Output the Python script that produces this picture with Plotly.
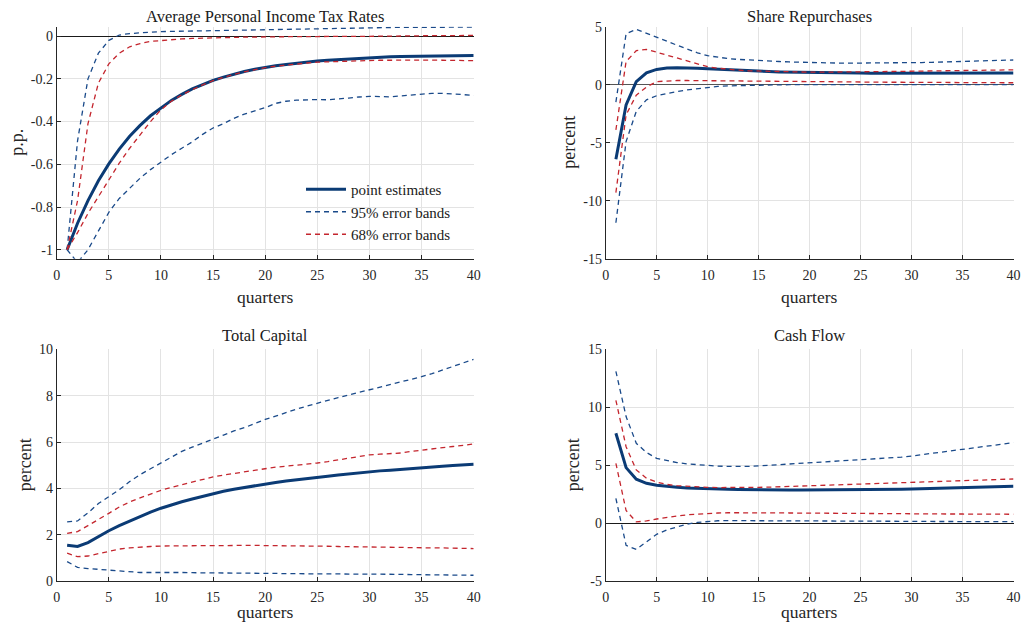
import plotly.graph_objects as go

quarters = list(range(1, 41))

# ---- Average Personal Income Tax Rates ----
tax_pe = [-1.00, -0.876, -0.770, -0.677, -0.598, -0.529, -0.469, -0.418, -0.373, -0.335,
          -0.301, -0.273, -0.247, -0.227, -0.207, -0.192, -0.178, -0.166, -0.155, -0.146,
          -0.139, -0.133, -0.127, -0.122, -0.117, -0.113, -0.110, -0.107, -0.104, -0.101,
          -0.099, -0.097, -0.096, -0.095, -0.094, -0.093, -0.092, -0.092, -0.091, -0.091]
tax_up95 = [-1.00, -0.49, -0.20, -0.08, -0.02, 0.005, 0.012, 0.016, 0.019, 0.021,
            0.022, 0.023, 0.024, 0.025, 0.026, 0.027, 0.028, 0.029, 0.030, 0.031,
            0.032, 0.033, 0.034, 0.035, 0.036, 0.037, 0.038, 0.039, 0.040, 0.040,
            0.041, 0.041, 0.041, 0.041, 0.041, 0.041, 0.042, 0.042, 0.042, 0.042]
tax_lo95 = [-1.00, -1.06, -1.00, -0.91, -0.825, -0.76, -0.71, -0.665, -0.625, -0.59,
            -0.555, -0.525, -0.495, -0.46, -0.43, -0.41, -0.385, -0.365, -0.35, -0.335,
            -0.315, -0.305, -0.300, -0.298, -0.297, -0.298, -0.295, -0.29, -0.285, -0.282,
            -0.283, -0.285, -0.28, -0.275, -0.27, -0.268, -0.268, -0.27, -0.274, -0.278]
tax_up68 = [-1.00, -0.77, -0.41, -0.22, -0.13, -0.08, -0.05, -0.035, -0.025, -0.02,
            -0.016, -0.013, -0.011, -0.009, -0.008, -0.007, -0.006, -0.005, -0.004, -0.004,
            -0.003, -0.003, -0.002, -0.002, -0.002, -0.001, -0.001, -0.001, -0.001, -0.001,
            0.0, 0.0, 0.001, 0.001, 0.001, 0.002, 0.002, 0.002, 0.003, 0.003]
tax_lo68 = [-1.00, -0.92, -0.83, -0.75, -0.672, -0.595, -0.525, -0.46, -0.40, -0.345,
            -0.305, -0.275, -0.25, -0.228, -0.208, -0.193, -0.179, -0.167, -0.157, -0.148,
            -0.141, -0.135, -0.130, -0.126, -0.122, -0.120, -0.118, -0.116, -0.115, -0.114,
            -0.113, -0.113, -0.112, -0.112, -0.112, -0.112, -0.113, -0.113, -0.114, -0.115]

# ---- Share Repurchases ----
rep_pe = [-6.43, -1.75, 0.26, 1.03, 1.32, 1.43, 1.46, 1.46, 1.42, 1.37,
          1.32, 1.28, 1.24, 1.20, 1.16, 1.13, 1.10, 1.08, 1.06, 1.04,
          1.03, 1.02, 1.01, 1.00, 1.00, 0.99, 0.99, 0.99, 0.99, 0.99,
          0.99, 0.99, 0.99, 0.99, 0.99, 0.99, 1.00, 1.00, 1.00, 1.00]
rep_up95 = [-1.5, 4.4, 4.77, 4.45, 4.1, 3.75, 3.4, 3.05, 2.75, 2.5,
            2.35, 2.25, 2.18, 2.12, 2.08, 2.04, 2.0, 1.96, 1.93, 1.9,
            1.88, 1.87, 1.86, 1.86, 1.86, 1.86, 1.87, 1.88, 1.89, 1.9,
            1.91, 1.93, 1.95, 1.97, 1.99, 2.01, 2.04, 2.07, 2.1, 2.13]
rep_lo95 = [-11.9, -4.9, -2.3, -1.3, -0.95, -0.75, -0.6, -0.45, -0.33, -0.22,
            -0.15, -0.1, -0.07, -0.05, -0.03, -0.02, -0.01, 0.0, 0.0, 0.0,
            0.0, 0.0, 0.0, 0.0, 0.0, 0.0, 0.0, 0.0, 0.0, 0.0,
            0.0, 0.0, 0.0, 0.0, 0.0, 0.0, 0.0, 0.0, 0.0, 0.0]
rep_up68 = [-3.9, 2.0, 2.93, 3.05, 2.8, 2.55, 2.3, 2.05, 1.8, 1.55,
            1.42, 1.32, 1.25, 1.2, 1.17, 1.14, 1.12, 1.1, 1.09, 1.08,
            1.08, 1.08, 1.09, 1.1, 1.11, 1.12, 1.13, 1.14, 1.15, 1.16,
            1.17, 1.18, 1.19, 1.2, 1.21, 1.22, 1.24, 1.25, 1.27, 1.28]
rep_lo68 = [-9.3, -2.6, -0.9, -0.2, 0.27, 0.34, 0.36, 0.36, 0.35, 0.34,
            0.33, 0.32, 0.31, 0.3, 0.29, 0.28, 0.27, 0.26, 0.25, 0.25,
            0.24, 0.24, 0.23, 0.23, 0.22, 0.22, 0.21, 0.21, 0.21, 0.2,
            0.2, 0.2, 0.19, 0.19, 0.19, 0.18, 0.18, 0.18, 0.17, 0.17]

# ---- Total Capital ----
cap_pe = [1.55, 1.50, 1.67, 1.93, 2.18, 2.40, 2.60, 2.80, 2.98, 3.15,
          3.30, 3.43, 3.55, 3.67, 3.78, 3.88, 3.97, 4.05, 4.13, 4.20,
          4.26, 4.32, 4.38, 4.43, 4.48, 4.53, 4.58, 4.63, 4.68, 4.72,
          4.76, 4.79, 4.83, 4.86, 4.89, 4.93, 4.96, 4.99, 5.02, 5.05]
cap_up95 = [2.56, 2.6, 2.95, 3.35, 3.65, 3.95, 4.3, 4.6, 4.85, 5.1,
            5.35, 5.6, 5.78, 5.95, 6.1, 6.3, 6.48, 6.62, 6.8, 6.98,
            7.12, 7.28, 7.42, 7.55, 7.68, 7.8, 7.92, 8.03, 8.14, 8.25,
            8.36, 8.47, 8.58, 8.7, 8.82, 8.95, 9.1, 9.25, 9.4, 9.57]
cap_lo95 = [0.85, 0.6, 0.55, 0.52, 0.47, 0.43, 0.4, 0.38, 0.38, 0.39,
            0.39, 0.38, 0.37, 0.37, 0.36, 0.36, 0.35, 0.35, 0.34, 0.34,
            0.34, 0.33, 0.33, 0.33, 0.32, 0.32, 0.32, 0.31, 0.31, 0.31,
            0.3, 0.3, 0.3, 0.29, 0.29, 0.29, 0.28, 0.28, 0.27, 0.26]
cap_up68 = [2.07, 2.14, 2.4, 2.68, 2.93, 3.2, 3.42, 3.6, 3.77, 3.92,
            4.05, 4.17, 4.28, 4.4, 4.5, 4.58, 4.65, 4.73, 4.8, 4.87,
            4.92, 4.96, 5.0, 5.05, 5.1, 5.16, 5.23, 5.3, 5.38, 5.45,
            5.48, 5.5, 5.53, 5.6, 5.66, 5.71, 5.76, 5.81, 5.86, 5.92]
cap_lo68 = [1.21, 1.06, 1.09, 1.2, 1.31, 1.39, 1.44, 1.48, 1.5, 1.52,
            1.53, 1.53, 1.54, 1.54, 1.54, 1.54, 1.55, 1.55, 1.55, 1.54,
            1.54, 1.53, 1.53, 1.52, 1.51, 1.51, 1.5, 1.49, 1.48, 1.48,
            1.47, 1.47, 1.46, 1.46, 1.45, 1.44, 1.44, 1.43, 1.42, 1.41]

# ---- Cash Flow ----
cf_pe = [7.76, 4.8, 3.8, 3.45, 3.28, 3.17, 3.1, 3.05, 3.01, 2.98,
         2.96, 2.94, 2.92, 2.9, 2.89, 2.88, 2.87, 2.87, 2.87, 2.87,
         2.87, 2.87, 2.87, 2.87, 2.88, 2.89, 2.9, 2.91, 2.93, 2.95,
         2.97, 2.99, 3.01, 3.03, 3.05, 3.07, 3.1, 3.13, 3.16, 3.19]
cf_up95 = [13.1, 9.2, 6.9, 6.1, 5.6, 5.4, 5.23, 5.12, 5.04, 4.97,
           4.93, 4.9, 4.89, 4.9, 4.95, 5.0, 5.05, 5.1, 5.16, 5.22,
           5.27, 5.32, 5.37, 5.42, 5.46, 5.52, 5.58, 5.64, 5.7, 5.8,
           5.92, 6.04, 6.16, 6.28, 6.4, 6.52, 6.62, 6.72, 6.83, 6.95]
cf_lo95 = [2.15, -1.9, -2.25, -1.6, -0.95, -0.57, -0.29, -0.07, 0.08, 0.18,
           0.22, 0.23, 0.23, 0.23, 0.23, 0.22, 0.22, 0.21, 0.21, 0.2,
           0.2, 0.19, 0.19, 0.18, 0.18, 0.18, 0.17, 0.17, 0.17, 0.17,
           0.16, 0.16, 0.16, 0.15, 0.15, 0.15, 0.14, 0.14, 0.14, 0.14]
cf_up68 = [10.6, 6.6, 4.6, 3.88, 3.55, 3.35, 3.25, 3.18, 3.13, 3.1,
           3.08, 3.07, 3.07, 3.08, 3.1, 3.12, 3.15, 3.17, 3.2, 3.22,
           3.25, 3.27, 3.3, 3.33, 3.36, 3.39, 3.42, 3.45, 3.48, 3.5,
           3.53, 3.56, 3.59, 3.62, 3.65, 3.68, 3.71, 3.75, 3.78, 3.82]
cf_lo68 = [5.17, 1.1, 0.12, 0.2, 0.37, 0.52, 0.63, 0.73, 0.8, 0.86,
           0.89, 0.91, 0.92, 0.92, 0.92, 0.91, 0.9, 0.89, 0.88, 0.87,
           0.86, 0.85, 0.84, 0.84, 0.83, 0.83, 0.82, 0.82, 0.81, 0.81,
           0.8, 0.8, 0.8, 0.8, 0.8, 0.79, 0.79, 0.79, 0.78, 0.78]

titles = ["Average Personal Income Tax Rates", "Share Repurchases", "Total Capital", "Cash Flow"]
ylabels = ["p.p.", "percent", "percent", "percent"]
xtick_vals = [0, 5, 10, 15, 20, 25, 30, 35, 40]
ytick_sets = [
    ([-1, -0.8, -0.6, -0.4, -0.2, 0], ["-1", "-0.8", "-0.6", "-0.4", "-0.2", "0"]),
    ([-15, -10, -5, 0, 5], ["-15", "-10", "-5", "0", "5"]),
    ([0, 2, 4, 6, 8, 10], ["0", "2", "4", "6", "8", "10"]),
    ([-5, 0, 5, 10, 15], ["-5", "0", "5", "10", "15"]),
]
yranges = [[-1.042, 0.044], [-15, 5], [0, 10], [-5, 15]]
legend_names = ["point estimates", "95% error bands", "68% error bands"]

panels = [
    (tax_pe, tax_up95, tax_lo95, tax_up68, tax_lo68),
    (rep_pe, rep_up95, rep_lo95, rep_up68, rep_lo68),
    (cap_pe, cap_up95, cap_lo95, cap_up68, cap_lo68),
    (cf_pe, cf_up95, cf_lo95, cf_up68, cf_lo68),
]

# The page body keeps an 8px margin, so the figure is sized to fill the
# 1029x631 window exactly; screen coordinates are converted with OFF.
OFF = 8
W, H = 1029 - 2 * OFF, 631 - 2 * OFF


def px(sx):
    return (sx - OFF) / W


def py(sy):
    return 1 - (sy - OFF) / H


xdom = [[px(56.7), px(473.7)], [px(605.7), px(1013.5)]]
ydom = [[py(258.7), py(26.7)], [py(581.3), py(349.3)]]

BLUE = "#0b3b75"
BLUE_D = "#1a4a8a"
RED = "#c4262e"
FONT = "Liberation Serif"

fig = go.Figure()
for i, (pe, u95, l95, u68, l68) in enumerate(panels):
    ax = "" if i == 0 else str(i + 1)
    xa, ya = "x" + ax, "y" + ax
    leg = i == 0
    fig.add_trace(go.Scatter(x=quarters, y=pe, xaxis=xa, yaxis=ya, mode="lines",
                             line=dict(color=BLUE, width=3), name=legend_names[0],
                             showlegend=leg))
    fig.add_trace(go.Scatter(x=quarters, y=u95, xaxis=xa, yaxis=ya, mode="lines",
                             line=dict(color=BLUE_D, width=1.3, dash="5px,4px"),
                             name=legend_names[1], showlegend=leg))
    fig.add_trace(go.Scatter(x=quarters, y=l95, xaxis=xa, yaxis=ya, mode="lines",
                             line=dict(color=BLUE_D, width=1.3, dash="5px,4px"),
                             name=legend_names[1], showlegend=False))
    fig.add_trace(go.Scatter(x=quarters, y=u68, xaxis=xa, yaxis=ya, mode="lines",
                             line=dict(color=RED, width=1.3, dash="5px,4px"),
                             name=legend_names[2], showlegend=leg))
    fig.add_trace(go.Scatter(x=quarters, y=l68, xaxis=xa, yaxis=ya, mode="lines",
                             line=dict(color=RED, width=1.3, dash="5px,4px"),
                             name=legend_names[2], showlegend=False))

    col, row = i % 2, i // 2
    axcommon = dict(showgrid=True, gridcolor="#e3e3e3", gridwidth=1,
                    showline=True, linecolor="#262626", linewidth=1,
                    ticks="inside", ticklen=4, tickcolor="#262626",
                    tickfont=dict(family=FONT, size=14, color="#262626"),
                    zeroline=False, fixedrange=True, automargin=False)
    fig.layout["xaxis" + ax] = dict(axcommon, domain=xdom[col], range=[0, 40],
                                    tickvals=xtick_vals, ticktext=[str(v) for v in xtick_vals],
                                    anchor=ya, ticklabelstandoff=3, ticklabeloverflow="allow")
    tv, tt = ytick_sets[i]
    fig.layout["yaxis" + ax] = dict(axcommon, domain=ydom[row], range=yranges[i],
                                    tickvals=tv, ticktext=tt, anchor=xa,
                                    zeroline=True,
                                    zerolinecolor="#555555" if i == 1 else "#1a1a1a",
                                    zerolinewidth=1)

    sx_c = (xdom[col][0] + xdom[col][1]) / 2
    title_y = [16.5, 335][row]
    xlab_y = [297, 612][row]
    fig.add_annotation(text=titles[i], x=sx_c, y=py(title_y), xref="paper", yref="paper",
                       showarrow=False, font=dict(family=FONT, size=16.5, color="#1a1a1a"),
                       xanchor="center", yanchor="middle")
    fig.add_annotation(text="quarters", x=sx_c, y=py(xlab_y), xref="paper", yref="paper",
                       showarrow=False, font=dict(family=FONT, size=17.5, color="#262626"),
                       xanchor="center", yanchor="middle")
    ylx = [17, 569, 25, 573][i]
    yl_y = [142.7, 465.3][row]
    fig.add_annotation(text=ylabels[i], x=px(ylx), y=py(yl_y), xref="paper", yref="paper",
                       showarrow=False, textangle=-90, font=dict(family=FONT, size=18, color="#262626"),
                       xanchor="center", yanchor="middle")

fig.update_layout(
    width=W, height=H, margin=dict(l=0, r=0, t=0, b=0, pad=0, autoexpand=False),
    paper_bgcolor="white", plot_bgcolor="white",
    showlegend=True,
    legend=dict(x=px(301), y=py(173), xanchor="left", yanchor="top",
                bgcolor="rgba(255,255,255,0)", borderwidth=0,
                font=dict(family=FONT, size=15, color="#1a1a1a"),
                tracegroupgap=0, itemwidth=40),
)

fig.write_html("out.html", config={"displayModeBar": False})
